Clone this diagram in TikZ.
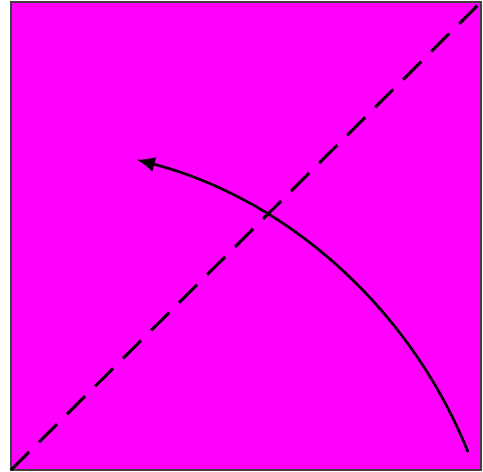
\documentclass[tikz,border=0pt]{standalone}
\usetikzlibrary{arrows.meta}
\definecolor{sheet}{RGB}{255,0,255}
\definecolor{edge}{RGB}{64,64,64}
\begin{document}
\begin{tikzpicture}[x=0.02cm,y=-0.02cm]
\useasboundingbox (0,0) rectangle (483,472);
\coordinate (TL) at (11,2);
\coordinate (TR) at (481,2);
\coordinate (BL) at (11,470);
\coordinate (BR) at (481,470);
\coordinate (S) at (468,452);

\fill[sheet] (TL) rectangle (BR);
\draw[edge, line width=0.7pt] (TL) -- (TR) -- (BR) -- (BL) -- cycle;

\draw[line width=1.7pt, dash pattern=on 14.5pt off 8pt] (BL) -- (TR);

\draw[line width=1.5pt, -{Latex[length=10.5pt,width=8.5pt]}]
  (S) arc[start angle=-21.9, end angle=-75.3, radius=492];
\end{tikzpicture}
\end{document}
